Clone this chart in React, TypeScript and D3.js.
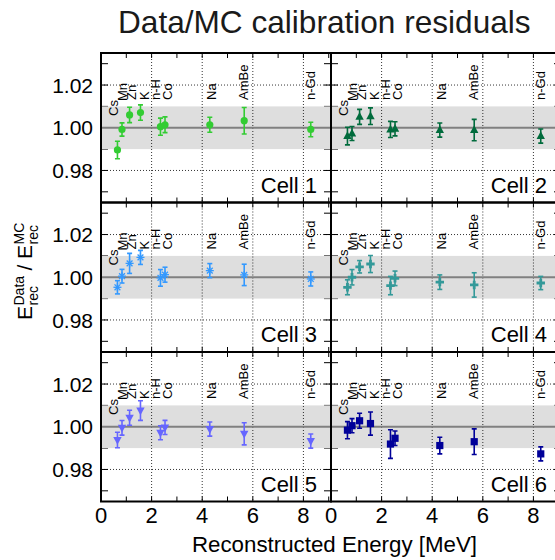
import React from "react";
import * as d3 from "d3";

const sources = ["Cs", "Mn", "Zn", "K", "n-H", "Co", "Na", "AmBe", "n-Gd"];
const energies = [0.65, 0.83, 1.13, 1.56, 2.35, 2.53, 4.3, 5.66, 8.29];
const labelX = [0.5, 0.85, 1.22, 1.7, 2.17, 2.62, 4.36, 5.64, 8.27];
const labelY = [1.0055, 1.0125, 1.013, 1.013, 1.013, 1.013, 1.013, 1.013, 1.013];

const cells = ["Cell 1", "Cell 2", "Cell 3", "Cell 4", "Cell 5", "Cell 6"];
const cellColors = ["#33cc33", "#006b3c", "#3399ff", "#339999", "#6666ff", "#000099"];
const cellMarkers = ["circle", "triangleUp", "star", "cross", "triangleDown", "square"];

const cell1 = [0.9896, 0.9992, 1.006, 1.0071, 1.0005, 1.0014, 1.0014, 1.0033, 0.9992];
const err1 = [0.0041, 0.0031, 0.0036, 0.0036, 0.004, 0.0037, 0.0035, 0.0062, 0.0034];
const cell2 = [0.9961, 0.9973, 1.0051, 1.0054, 0.9992, 0.9995, 0.9989, 0.9989, 0.9961];
const err2 = [0.0041, 0.0033, 0.0035, 0.0039, 0.0038, 0.0033, 0.0033, 0.005, 0.0033];
const cell3 = [0.9953, 1.0005, 1.0065, 1.0093, 0.9997, 1.0012, 1.0031, 1.0011, 0.9992];
const err3 = [0.0031, 0.0032, 0.0047, 0.0033, 0.0039, 0.0035, 0.0033, 0.005, 0.0033];
const cell4 = [0.9953, 1.0, 1.0049, 1.0062, 0.9961, 0.9995, 0.9977, 0.9964, 0.9973];
const err4 = [0.0035, 0.0036, 0.0029, 0.004, 0.0043, 0.0034, 0.0034, 0.0057, 0.0031];
const cell5 = [0.9938, 0.9995, 1.0042, 1.0076, 0.9972, 0.9997, 0.9989, 0.9967, 0.9933];
const err5 = [0.0036, 0.0034, 0.0035, 0.0046, 0.0033, 0.0033, 0.0033, 0.0052, 0.0033];
const cell6 = [0.9984, 1.0005, 1.0028, 1.0015, 0.9919, 0.9946, 0.9912, 0.993, 0.9873];
const err6 = [0.004, 0.0033, 0.0035, 0.0054, 0.0067, 0.0034, 0.0039, 0.006, 0.0033];

const cellValues = [cell1, cell2, cell3, cell4, cell5, cell6];
const cellErrors = [err1, err2, err3, err4, err5, err6];

const xTickLabels = [0, 2, 4, 6, 8];
const xMinorTicks = [1, 2, 3, 4, 5, 6, 7, 8, 9];
const yTickLabels = [0.98, 1.0, 1.02];
const yAllTicks = [0.97, 0.98, 0.99, 1.0, 1.01, 1.02, 1.03];

const FONT = "'Liberation Sans', Arial, Helvetica, sans-serif";
const LEFT = 101;
const TOP = 53;
const PW = 230;
const PH = 149.5;

function Marker({ type, x, y, color }: { type: string; x: number; y: number; color: string }) {
  switch (type) {
    case "circle":
      return <circle cx={x} cy={y} r={3.6} fill={color} />;
    case "triangleUp":
      return <path d={`M${x},${y - 4.8} L${x + 4.2},${y + 3} L${x - 4.2},${y + 3} Z`} fill={color} />;
    case "triangleDown":
      return <path d={`M${x},${y + 4.8} L${x + 4.2},${y - 3} L${x - 4.2},${y - 3} Z`} fill={color} />;
    case "square":
      return <rect x={x - 3.6} y={y - 3.6} width={7.2} height={7.2} fill={color} />;
    case "cross":
      return (
        <path
          d={`M${x - 1.4},${y - 4.2} h2.8 v2.8 h2.8 v2.8 h-2.8 v2.8 h-2.8 v-2.8 h-2.8 v-2.8 h2.8 Z`}
          fill={color}
        />
      );
    case "star": {
      const r = 4;
      const d = 2.9;
      return (
        <g stroke={color} strokeWidth={1.3}>
          <line x1={x - r} y1={y} x2={x + r} y2={y} />
          <line x1={x} y1={y - r} x2={x} y2={y + r} />
          <line x1={x - d} y1={y - d} x2={x + d} y2={y + d} />
          <line x1={x - d} y1={y + d} x2={x + d} y2={y - d} />
        </g>
      );
    }
    default:
      return null;
  }
}

function Panel({ idx }: { idx: number }) {
  const col = idx % 2;
  const row = Math.floor(idx / 2);
  const x0 = LEFT + col * PW;
  const y0 = TOP + row * PH;
  const x = d3.scaleLinear().domain([0, 9.09]).range([x0, x0 + PW]);
  const y = d3.scaleLinear().domain([0.965, 1.035]).range([y0 + PH, y0]);
  const color = cellColors[idx];
  const vals = cellValues[idx];
  const errs = cellErrors[idx];
  const clipId = `clip${idx}`;
  return (
    <g>
      <defs>
        <clipPath id={clipId}>
          <rect x={x0} y={y0} width={PW} height={PH} />
        </clipPath>
      </defs>
      <g clipPath={`url(#${clipId})`}>
        {yAllTicks.map((t) => (
          <g key={"yt" + t} stroke="#000" strokeWidth={1}>
            <line x1={x0} x2={x0 + 7} y1={y(t)} y2={y(t)} />
            <line x1={x0 + PW - 7} x2={x0 + PW} y1={y(t)} y2={y(t)} />
          </g>
        ))}
        {xMinorTicks.map((t) => (
          <g key={"xt" + t} stroke="#000" strokeWidth={1}>
            <line x1={x(t)} x2={x(t)} y1={y0} y2={y0 + 5} />
            <line x1={x(t)} x2={x(t)} y1={y0 + PH - 5} y2={y0 + PH} />
          </g>
        ))}
        <rect
          x={x0 + 1}
          y={y(1.01)}
          width={PW - 2}
          height={y(0.99) - y(1.01)}
          fill="#dedede"
        />
        {[2, 4, 6, 8].map((t) => (
          <line
            key={"gx" + t}
            x1={x(t)}
            x2={x(t)}
            y1={y0}
            y2={y0 + PH}
            stroke="#000"
            strokeWidth={0.8}
            strokeDasharray="1,2"
          />
        ))}
        {[0.98, 1.02].map((t) => (
          <line
            key={"gy" + t}
            x1={x0}
            x2={x0 + PW}
            y1={y(t)}
            y2={y(t)}
            stroke="#000"
            strokeWidth={0.8}
            strokeDasharray="1,2"
          />
        ))}
        <line x1={x0} x2={x0 + PW} y1={y(1)} y2={y(1)} stroke="#808080" strokeWidth={2} />
        {sources.map((s, i) => (
          <text
            key={"lab" + s}
            transform={`translate(${x(labelX[i])},${y(labelY[i])}) rotate(-90)`}
            fontFamily={FONT}
            fontSize={13}
            fill="#000"
            dominantBaseline="central"
          >
            {s}
          </text>
        ))}
        {vals.map((v, i) => {
          const px = x(energies[i]);
          return (
            <g key={"eb" + i} stroke={color} strokeWidth={1.6}>
              <line x1={px} x2={px} y1={y(v + errs[i])} y2={y(v - errs[i])} />
              <line x1={px - 2.5} x2={px + 2.5} y1={y(v + errs[i])} y2={y(v + errs[i])} />
              <line x1={px - 2.5} x2={px + 2.5} y1={y(v - errs[i])} y2={y(v - errs[i])} />
            </g>
          );
        })}
        {vals.map((v, i) => (
          <Marker key={"m" + i} type={cellMarkers[idx]} x={x(energies[i])} y={y(v)} color={color} />
        ))}
        <text
          x={x0 + PW - 14}
          y={y0 + PH - 10}
          textAnchor="end"
          fontFamily={FONT}
          fontSize={22}
          fill="#000"
        >
          {cells[idx]}
        </text>
      </g>
      <rect x={x0} y={y0} width={PW} height={PH} fill="none" stroke="#000" strokeWidth={2} />
      {col === 0 &&
        yTickLabels.map((t) => (
          <text
            key={"yl" + t}
            x={93}
            y={y(t)}
            dy="0.36em"
            textAnchor="end"
            fontFamily={FONT}
            fontSize={21}
            fill="#000"
          >
            {t.toFixed(2)}
          </text>
        ))}
      {row === 2 &&
        xTickLabels.map((t) => (
          <text
            key={"xl" + t}
            x={x(t)}
            y={523}
            textAnchor="middle"
            fontFamily={FONT}
            fontSize={22}
            fill="#000"
          >
            {t}
          </text>
        ))}
    </g>
  );
}

function YTitle() {
  const big = 21;
  const small = 14;
  return (
    <g transform="translate(32,320) rotate(-90)" fontFamily={FONT} fill="#000">
      <text x={0} y={0} fontSize={big}>E</text>
      <text x={14.5} y={-8.5} fontSize={small}>Data</text>
      <text x={14.5} y={5.5} fontSize={small}>rec</text>
      <text x={49.5} y={0} fontSize={big}>/</text>
      <text x={61} y={0} fontSize={big}>E</text>
      <text x={75.5} y={-8.5} fontSize={small}>MC</text>
      <text x={75.5} y={5.5} fontSize={small}>rec</text>
    </g>
  );
}

export default function App() {
  return (
    <svg
      width={555}
      height={560}
      style={{ position: "absolute", left: 0, top: 0, background: "#fff" }}
    >
      <rect x={0} y={0} width={555} height={560} fill="#fff" />
      <text x={118} y={33} fontFamily={FONT} fontSize={31.6} fill="#1a1a1a">
        Data/MC calibration residuals
      </text>
      {cells.map((c, i) => (
        <Panel key={c} idx={i} />
      ))}
      <YTitle />
      <text x={477} y={552} textAnchor="end" fontFamily={FONT} fontSize={22.3} fill="#000">
        Reconstructed Energy [MeV]
      </text>
    </svg>
  );
}
